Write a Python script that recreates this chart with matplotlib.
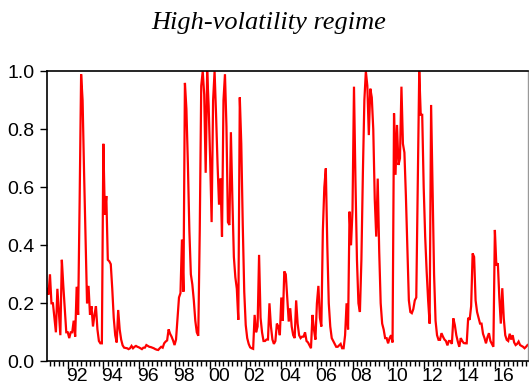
import numpy as np
import matplotlib
matplotlib.use("Agg")
import matplotlib.pyplot as plt
from matplotlib.ticker import FixedLocator

# Monthly series, starting 1990M11
start_year = 1990
start_month = 11
values = [
    0.25, 0.23, 0.30, 0.20, 0.20, 0.15, 0.10, 0.25, 0.17, 0.09,
    0.35, 0.26, 0.18, 0.10, 0.10, 0.08, 0.10, 0.10, 0.14, 0.085,
    0.257, 0.16, 0.55, 0.99, 0.90, 0.65, 0.42, 0.20, 0.26, 0.16,
    0.19, 0.12, 0.16, 0.19, 0.11, 0.07, 0.062, 0.062, 0.75, 0.505,
    0.57, 0.35, 0.345, 0.335, 0.25, 0.15, 0.09, 0.065, 0.177, 0.11,
    0.075, 0.055, 0.047, 0.046, 0.045, 0.042, 0.045, 0.053, 0.045, 0.05,
    0.053, 0.05, 0.048, 0.045, 0.042, 0.047, 0.047, 0.056, 0.053, 0.05,
    0.049, 0.047, 0.045, 0.042, 0.040, 0.039, 0.045, 0.05, 0.047, 0.062,
    0.068, 0.072, 0.11, 0.095, 0.085, 0.072, 0.056, 0.075, 0.15, 0.22,
    0.235, 0.42, 0.24, 0.96, 0.87, 0.68, 0.45, 0.30, 0.265, 0.21,
    0.14, 0.10, 0.088, 0.45, 0.95, 1.0, 0.92, 0.65, 1.0, 0.88,
    0.70, 0.48, 0.90, 1.0, 0.85, 0.68, 0.54, 0.63, 0.43, 0.90,
    0.99, 0.81, 0.48, 0.47, 0.79, 0.56, 0.36, 0.29, 0.25, 0.143,
    0.91, 0.75, 0.47, 0.24, 0.125, 0.08, 0.06, 0.048, 0.045, 0.043,
    0.16, 0.10, 0.12, 0.367, 0.15, 0.10, 0.07, 0.07, 0.075, 0.075,
    0.20, 0.12, 0.075, 0.06, 0.07, 0.13, 0.12, 0.09, 0.22, 0.14,
    0.31, 0.30, 0.22, 0.137, 0.183, 0.12, 0.09, 0.08, 0.21, 0.13,
    0.09, 0.08, 0.085, 0.085, 0.10, 0.07, 0.065, 0.055, 0.045, 0.16,
    0.11, 0.075, 0.20, 0.26, 0.15, 0.12, 0.45, 0.60, 0.665, 0.40,
    0.20, 0.12, 0.08, 0.07, 0.06, 0.05, 0.05, 0.055, 0.06, 0.045,
    0.045, 0.09, 0.20, 0.11, 0.516, 0.40, 0.52, 0.947, 0.62, 0.35,
    0.20, 0.17, 0.35, 0.65, 0.90, 1.0, 0.95, 0.78, 0.94, 0.91,
    0.80, 0.56, 0.43, 0.63, 0.38, 0.20, 0.13, 0.11, 0.08, 0.08,
    0.062, 0.08, 0.09, 0.065, 0.855, 0.643, 0.815, 0.677, 0.70, 0.947,
    0.75, 0.72, 0.57, 0.39, 0.21, 0.17, 0.166, 0.18, 0.21, 0.22,
    0.60, 1.0, 0.85, 0.85, 0.60, 0.43, 0.31, 0.21, 0.13, 0.884,
    0.60, 0.30, 0.14, 0.09, 0.074, 0.074, 0.097, 0.085, 0.075, 0.07,
    0.055, 0.07, 0.07, 0.06, 0.148, 0.125, 0.09, 0.068, 0.05, 0.08,
    0.07, 0.063, 0.062, 0.062, 0.15, 0.143, 0.19, 0.372, 0.36, 0.21,
    0.17, 0.15, 0.13, 0.13, 0.095, 0.08, 0.062, 0.083, 0.097, 0.07,
    0.06, 0.05, 0.453, 0.33, 0.338, 0.22, 0.13, 0.252, 0.148, 0.09,
    0.074, 0.07, 0.095, 0.075, 0.09, 0.065, 0.056, 0.06, 0.068, 0.056,
    0.053, 0.05, 0.045, 0.05, 0.056,
]
year_labels = ["92", "94", "96", "98", "00", "02", "04", "06", "08", "10", "12", "14", "16"]
label_years = [1992, 1994, 1996, 1998, 2000, 2002, 2004, 2006, 2008, 2010, 2012, 2014, 2016]
y_ticks = [0.0, 0.2, 0.4, 0.6, 0.8, 1.0]
title = "High-volatility regime"

t = start_year + (start_month - 1) / 12 + np.arange(len(values)) / 12

num_font = ["Liberation Sans Narrow", "Liberation Sans", "DejaVu Sans"]

fig = plt.figure(figsize=(5.29, 3.89), dpi=100)
ax = fig.add_axes([47 / 529, 1 - 361.3 / 389, (527.5 - 47) / 529, (361.3 - 71.3) / 389])
ax.plot(t, values, color="#ff0000", lw=1.6, solid_joinstyle="miter")
ax.set_xlim(t[0], t[-1])
ax.set_ylim(0, 1)

for s in ["left", "top", "bottom"]:
    ax.spines[s].set_color("black")
    ax.spines[s].set_linewidth(1.2)
ax.spines["right"].set_color("#999999")
ax.spines["right"].set_linewidth(1.0)

ax.set_yticks(y_ticks)
ax.set_yticklabels([f"{v:.1f}" for v in y_ticks], family=num_font, fontsize=14)
ax.tick_params(axis="y", direction="out", length=5, width=1, pad=4)

major_x = [y for y in range(1992, 2018, 2)]
minor_x = [y + q / 4 for y in range(1991, 2018) for q in range(4) if y + q / 4 <= t[-1]]
ax.xaxis.set_major_locator(FixedLocator(major_x))
ax.xaxis.set_minor_locator(FixedLocator(minor_x))
ax.tick_params(axis="x", which="major", direction="out", length=6, width=1, labelbottom=False)
ax.tick_params(axis="x", which="minor", direction="out", length=3.5, width=1)

sec = ax.secondary_xaxis("bottom")
sec.set_xticks([y + 0.5 for y in label_years])
sec.set_xticklabels(year_labels, family=num_font, fontsize=14)
sec.tick_params(length=0, pad=5)
sec.spines["bottom"].set_visible(False)

fig.text(268.5 / 529, 1 - 23 / 389, title, ha="center", va="center",
         family=["Liberation Serif", "DejaVu Serif"], style="italic", fontsize=19)

fig.savefig("out.png", dpi=100)
